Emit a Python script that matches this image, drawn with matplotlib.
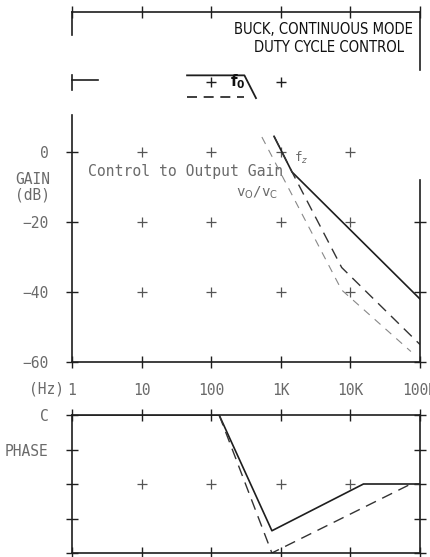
import numpy as np
import matplotlib
matplotlib.use('agg')
import matplotlib.pyplot as plt

# frequency decades shared by all panels
decades = [1, 10, 100, 1e3, 1e4, 1e5]
decade_labels = ['1', '10', '100', '1K', '10K', '100K']

# gain (dB) - solid: -40 dB/dec then -20 dB/dec above f_z
gain_f_solid = [800, 1450, 100000]
gain_solid = [4.5, -5.7, -42]
gain_f_mid = [800, 1450, 7500, 100000]
gain_mid = [4.5, -5.7, -33, -55]
gain_f_outer = [535, 7470, 74000]
gain_outer = [4.3, -39.4, -57]
gain_levels = [0, -20, -40, -60]
gain_labels = ['0', '\u221220', '\u221240', '\u221260']

# phase (deg)
phase_f_solid = [1, 130, 745, 15400, 100000]
phase_solid = [0, 0, -151, -90, -90]
phase_f_dash = [130, 745, 74000, 100000]
phase_dash = [0, -180, -90, -90]
phase_levels = [0, -45, -90, -135, -180]
phase_labels = ['C', 'PHASE', '', '', '']

# fragment of the previous chart at the top
top_f_solid = [45, 300, 440]
top_solid = [1.9, 1.9, -4.6]
top_f_dash = [45, 300]
top_dash = [-4.3, -4.3]
top_f_stub = [1, 2.4]
top_stub = [0.6, 0.6]

W, H = 430, 557
INK = '#1e1e1e'
GREY = '#6a6a6a'
MONO = 'DejaVu Sans Mono'


def box(x0, y0, x1, y1):
    return [x0 / W, 1 - y1 / H, (x1 - x0) / W, (y1 - y0) / H]


def style(ax):
    ax.set_xscale('log')
    ax.set_xlim(1, 1e5)
    ax.set_facecolor('none')
    for s in ax.spines.values():
        s.set_color(INK)
        s.set_linewidth(1.2)
    ax.tick_params(which='both', direction='inout', length=8, width=1.0,
                   color=INK, labelcolor=GREY, labelsize=10.5)
    ax.minorticks_off()
    ax.set_xticks(decades)
    ax.set_xticklabels([])


fig = plt.figure(figsize=(4.3, 5.57), dpi=100)

# ---- top fragment ----
ax0 = fig.add_axes(box(72, 12, 420, 100))
style(ax0)
ax0.set_ylim(20 - 88 / 3.5, 20)
ax0.spines['bottom'].set_visible(False)
ax0.spines['left'].set_bounds(13.4, 20)
ax0.spines['right'].set_bounds(3.4, 20)
ax0.xaxis.set_ticks_position('top')
ax0.set_yticks([])
ax0.plot(top_f_solid, top_solid, color=INK, lw=1.3)
ax0.plot(top_f_dash, top_dash, color=INK, lw=1.2, dashes=(6, 4))
ax0.plot(top_f_stub, top_stub, color=INK, lw=1.2, clip_on=False)
ax0.plot([1, 1], [-2.3, 2], color=INK, lw=1.2, clip_on=False)
ax0.plot([100, 1000], [0, 0], ls='none', marker='+', ms=7, mew=1.0, color=INK)
ax0.text(0.98, 14.9, 'BUCK, CONTINUOUS MODE', transform=ax0.get_yaxis_transform(),
         ha='right', va='center', fontsize=10.6, color='#111', family='DejaVu Sans',
         fontstretch='condensed')
ax0.text(0.955, 10.0, 'DUTY CYCLE CONTROL', transform=ax0.get_yaxis_transform(),
         ha='right', va='center', fontsize=10.6, color='#111', family='DejaVu Sans',
         fontstretch='condensed')
ax0.text(238, 0, r'$\mathbf{f_0}$', ha='center', va='center', fontsize=11, color='#111')

# ---- gain ----
ax1 = fig.add_axes(box(72, 115, 420, 362))
style(ax1)
ax1.set_ylim(-60, 10.6)
ax1.spines['top'].set_visible(False)
ax1.spines['right'].set_bounds(-60, -8)
ax1.yaxis.set_ticks_position('both')
ax1.set_yticks(gain_levels)
ax1.set_yticklabels(gain_labels, family=MONO)
ax1.yaxis.get_major_ticks()[0].tick2line.set_visible(False)
ax1.tick_params(axis='y', pad=13)
ax1.set_xticklabels(decade_labels, family=MONO)
ax1.tick_params(axis='x', pad=11)
gx, gy = np.meshgrid(decades[1:-1], gain_levels[:-1])
ax1.plot(gx.ravel(), gy.ravel(), ls='none', marker='+', ms=7, mew=0.9, color='#555')
ax1.plot(gain_f_solid, gain_solid, color=INK, lw=1.2)
ax1.plot(gain_f_mid, gain_mid, color='#333', lw=1.0, dashes=(8, 5))
ax1.plot(gain_f_outer, gain_outer, color='#888', lw=0.8, dashes=(7, 6))
ax1.text(1.7, -5.5, 'Control to Output Gain', fontsize=10.6, family=MONO,
         color=GREY, va='center')
ax1.text(228, -11.5, r'v$_{\rm O}$/v$_{\rm C}$', fontsize=10.2, family=MONO,
         color=GREY, va='center')
ax1.text(1560, -1.7, r'f$_z$', fontsize=9, family=MONO, color=GREY, va='center')

fig.text(50 / W, 1 - 180 / H, 'GAIN', ha='right', va='center', fontsize=10.5,
         family=MONO, color=GREY)
fig.text(50 / W, 1 - 195 / H, '(dB)', ha='right', va='center', fontsize=10.5,
         family=MONO, color=GREY)
fig.text(64 / W, 1 - 389 / H, '(Hz)', ha='right', va='center', fontsize=10.5,
         family=MONO, color=GREY)

# ---- phase ----
ax2 = fig.add_axes(box(72, 415, 420, 553))
style(ax2)
ax2.set_ylim(-180, 0)
ax2.yaxis.set_ticks_position('both')
ax2.xaxis.set_ticks_position('both')
ax2.set_yticks(phase_levels)
ax2.set_yticklabels(phase_labels, family=MONO)
ax2.tick_params(axis='y', pad=13)
ax2.plot(decades[1:-1], [-90] * 4, ls='none', marker='+', ms=7, mew=0.9, color='#555')
ax2.plot(phase_f_solid, phase_solid, color=INK, lw=1.2)
ax2.plot(phase_f_dash, phase_dash, color='#333', lw=1.0, dashes=(8, 5))

fig.savefig('out.png', dpi=100)
